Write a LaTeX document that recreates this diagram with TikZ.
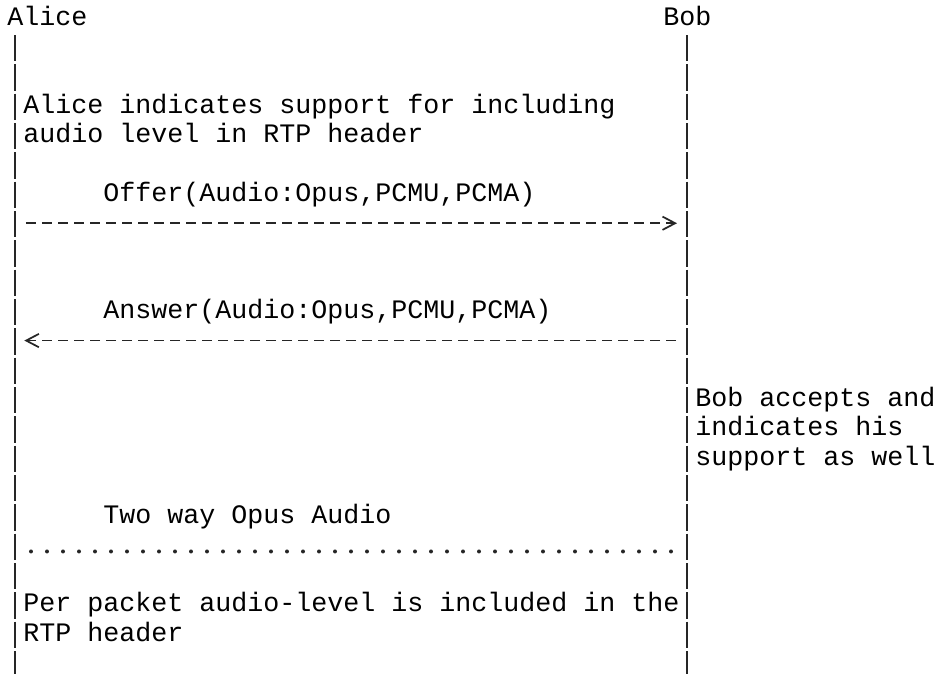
\documentclass[tikz,border=0pt]{standalone}
\usepackage{fontspec}
\newfontfamily\asciifont{Liberation Mono}
\usetikzlibrary{arrows.meta,positioning}
\tikzset{
	txt/.style={font=\asciifont\fontsize{20pt}{22pt}\selectfont,
		inner sep=0pt, anchor=base west, align=left},
	lifeline/.style={draw=black!85, line width=1.3pt,
		dash pattern=on 19.75pt off 2.25pt},
	msg/.style={draw=black!85, line width=1.3pt,
		dash pattern=on 7.5pt off 4.5pt,
		-{Straight Barb[length=9.5pt,width=10pt,sep=9pt]}},
	media/.style={draw=black!85, line width=3pt, line cap=round,
		dash pattern=on 0pt off 12pt}
}
\begin{document}
\begin{tikzpicture}[x=12pt,y=-22pt]
	\useasboundingbox (-0.4375,0) rectangle (58.25,22.977);
	% participants
	\node[txt] (alice) at (0,0.86) {Alice};
	\node[txt] (bob) at (41,0.86) {Bob};
	
	% lifelines
	\coordinate (alice-top) at (0.5,1.195);
	\coordinate (alice-end) at (0.5,23.1);
	\coordinate (bob-top) at (42.5,1.195);
	\coordinate (bob-end) at (42.5,23.1);
	\draw[lifeline] (alice-top) -- (alice-end);
	\draw[lifeline] (bob-top) -- (bob-end);
	
	% notes (placed by their last line)
	\node[txt] (alice-note) at (1,4.86) {Alice indicates support for including\\audio level in RTP header};
	\node[txt] (bob-note) at (43,15.86) {Bob accepts and\\indicates his\\support as well};
	\node[txt] (level-note) at (1,21.86) {Per packet audio-level is included in the\\RTP header};
	
	% labels
	\node[txt] (offer) at (6,6.86) {Offer(Audio:Opus,PCMU,PCMA)};
	\node[txt] (answer) at (6,10.86) {Answer(Audio:Opus,PCMU,PCMA)};
	\node[txt] (audio) at (6,17.86) {Two way Opus Audio};
	
	% Arrows
	\coordinate (alice-offer) at (0.5,7.61);
	\coordinate (bob-offer) at (42.5,7.61);
	\coordinate (alice-answer) at (0.5,11.61);
	\coordinate (bob-answer) at (42.5,11.61);
	\coordinate (alice-audio) at (0.5,18.80);
	\coordinate (bob-audio) at (42.5,18.80);
	\draw[msg, shorten <=8.25pt, shorten >=-1.5pt] (alice-offer) -- (bob-offer);
	\draw[msg, shorten <=8.25pt, shorten >=-2pt] (bob-answer) -- (alice-answer);
	\draw[media, shorten <=12pt, shorten >=11.9pt] (alice-audio) -- (bob-audio);
\end{tikzpicture}
\end{document}
